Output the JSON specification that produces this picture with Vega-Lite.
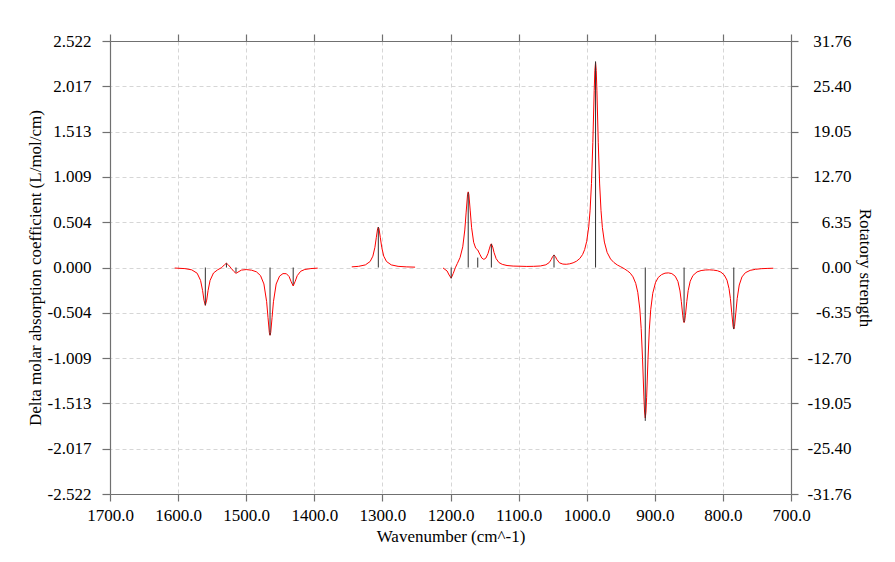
{
  "$schema": "https://vega.github.io/schema/vega-lite/v6.json",
  "width": 681,
  "height": 453,
  "autosize": {"type": "none"},
  "padding": {"left": 110, "top": 41, "right": 104, "bottom": 68},
  "background": "white",
  "config": {
    "view": {"stroke": null},
    "font": "Liberation Serif, Times New Roman, DejaVu Serif, serif",
    "axis": {
      "labelFont": "Liberation Serif, Times New Roman, DejaVu Serif, serif",
      "titleFont": "Liberation Serif, Times New Roman, DejaVu Serif, serif",
      "labelFontSize": 17,
      "titleFontSize": 17,
      "titleFontWeight": "normal",
      "labelColor": "#000",
      "titleColor": "#000",
      "domainColor": "#707070",
      "tickColor": "#707070",
      "domainWidth": 1.2,
      "tickWidth": 1.2,
      "gridColor": "#d6d6d6",
      "gridDash": [4, 3],
      "gridWidth": 1,
      "labelFlush": false,
      "labelOverlap": false
    }
  },
  "datasets": {
    "curve": [
      {"wn":1605,"de":-0.006,"seg":1},{"wn":1590,"de":-0.0125,"seg":1},{"wn":1580,"de":-0.026,"seg":1},{"wn":1572,"de":-0.064,"seg":1},{"wn":1567,"de":-0.144,"seg":1},{"wn":1564,"de":-0.258,"seg":1},{"wn":1562,"de":-0.364,"seg":1},{"wn":1560,"de":-0.421,"seg":1},{"wn":1558,"de":-0.363,"seg":1},{"wn":1556,"de":-0.256,"seg":1},{"wn":1553,"de":-0.143,"seg":1},{"wn":1548,"de":-0.061,"seg":1},{"wn":1542,"de":-0.026,"seg":1},{"wn":1536,"de":-0.001,"seg":1},{"wn":1532,"de":0.030,"seg":1},{"wn":1529,"de":0.048,"seg":1},{"wn":1526,"de":0.027,"seg":1},{"wn":1522,"de":-0.009,"seg":1},{"wn":1518,"de":-0.045,"seg":1},{"wn":1515,"de":-0.065,"seg":1},{"wn":1512,"de":-0.051,"seg":1},{"wn":1507,"de":-0.029,"seg":1},{"wn":1500,"de":-0.023,"seg":1},{"wn":1492,"de":-0.030,"seg":1},{"wn":1485,"de":-0.048,"seg":1},{"wn":1479,"de":-0.090,"seg":1},{"wn":1474,"de":-0.183,"seg":1},{"wn":1470,"de":-0.380,"seg":1},{"wn":1468,"de":-0.555,"seg":1},{"wn":1466,"de":-0.725,"seg":1},{"wn":1465,"de":-0.754,"seg":1},{"wn":1464,"de":-0.725,"seg":1},{"wn":1462,"de":-0.557,"seg":1},{"wn":1460,"de":-0.381,"seg":1},{"wn":1456,"de":-0.184,"seg":1},{"wn":1451,"de":-0.096,"seg":1},{"wn":1446,"de":-0.068,"seg":1},{"wn":1441,"de":-0.069,"seg":1},{"wn":1437,"de":-0.101,"seg":1},{"wn":1434,"de":-0.158,"seg":1},{"wn":1431,"de":-0.206,"seg":1},{"wn":1428,"de":-0.153,"seg":1},{"wn":1425,"de":-0.090,"seg":1},{"wn":1420,"de":-0.042,"seg":1},{"wn":1414,"de":-0.022,"seg":1},{"wn":1405,"de":-0.012,"seg":1},{"wn":1395,"de":-0.007,"seg":1},
      {"wn":1345,"de":0.007,"seg":2},{"wn":1335,"de":0.013,"seg":2},{"wn":1325,"de":0.029,"seg":2},{"wn":1318,"de":0.067,"seg":2},{"wn":1314,"de":0.126,"seg":2},{"wn":1311,"de":0.225,"seg":2},{"wn":1309,"de":0.331,"seg":2},{"wn":1307,"de":0.433,"seg":2},{"wn":1306,"de":0.450,"seg":2},{"wn":1305,"de":0.433,"seg":2},{"wn":1303,"de":0.331,"seg":2},{"wn":1301,"de":0.225,"seg":2},{"wn":1298,"de":0.126,"seg":2},{"wn":1294,"de":0.067,"seg":2},{"wn":1287,"de":0.029,"seg":2},{"wn":1277,"de":0.013,"seg":2},{"wn":1265,"de":0.007,"seg":2},{"wn":1252,"de":0.004,"seg":2},
      {"wn":1211,"de":-0.005,"seg":3},{"wn":1205,"de":-0.039,"seg":3},{"wn":1202,"de":-0.084,"seg":3},{"wn":1199,"de":-0.118,"seg":3},{"wn":1196,"de":-0.067,"seg":3},{"wn":1193,"de":-0.004,"seg":3},{"wn":1190,"de":0.044,"seg":3},{"wn":1186,"de":0.110,"seg":3},{"wn":1182,"de":0.230,"seg":3},{"wn":1179,"de":0.418,"seg":3},{"wn":1177,"de":0.617,"seg":3},{"wn":1175,"de":0.808,"seg":3},{"wn":1174,"de":0.842,"seg":3},{"wn":1173,"de":0.812,"seg":3},{"wn":1171,"de":0.630,"seg":3},{"wn":1169,"de":0.443,"seg":3},{"wn":1166,"de":0.281,"seg":3},{"wn":1163,"de":0.215,"seg":3},{"wn":1160,"de":0.195,"seg":3},{"wn":1157,"de":0.148,"seg":3},{"wn":1154,"de":0.105,"seg":3},{"wn":1151,"de":0.090,"seg":3},{"wn":1148,"de":0.105,"seg":3},{"wn":1145,"de":0.154,"seg":3},{"wn":1143,"de":0.207,"seg":3},{"wn":1141,"de":0.256,"seg":3},{"wn":1140,"de":0.264,"seg":3},{"wn":1138,"de":0.228,"seg":3},{"wn":1136,"de":0.165,"seg":3},{"wn":1133,"de":0.099,"seg":3},{"wn":1129,"de":0.056,"seg":3},{"wn":1124,"de":0.035,"seg":3},{"wn":1117,"de":0.022,"seg":3},{"wn":1108,"de":0.016,"seg":3},{"wn":1098,"de":0.014,"seg":3},{"wn":1088,"de":0.012,"seg":3},{"wn":1078,"de":0.013,"seg":3},{"wn":1068,"de":0.017,"seg":3},{"wn":1060,"de":0.030,"seg":3},{"wn":1055,"de":0.055,"seg":3},{"wn":1052,"de":0.090,"seg":3},{"wn":1050,"de":0.122,"seg":3},{"wn":1048,"de":0.139,"seg":3},{"wn":1046,"de":0.122,"seg":3},{"wn":1044,"de":0.091,"seg":3},{"wn":1040,"de":0.052,"seg":3},{"wn":1035,"de":0.038,"seg":3},{"wn":1030,"de":0.036,"seg":3},{"wn":1025,"de":0.041,"seg":3},{"wn":1020,"de":0.052,"seg":3},{"wn":1015,"de":0.070,"seg":3},{"wn":1010,"de":0.101,"seg":3},{"wn":1006,"de":0.145,"seg":3},{"wn":1003,"de":0.200,"seg":3},{"wn":1000,"de":0.291,"seg":3},{"wn":997,"de":0.453,"seg":3},{"wn":995,"de":0.638,"seg":3},{"wn":993,"de":0.933,"seg":3},{"wn":991,"de":1.391,"seg":3},{"wn":989,"de":1.968,"seg":3},{"wn":988,"de":2.196,"seg":3},{"wn":987,"de":2.283,"seg":3},{"wn":986,"de":2.194,"seg":3},{"wn":985,"de":1.967,"seg":3},{"wn":983,"de":1.389,"seg":3},{"wn":981,"de":0.930,"seg":3},{"wn":979,"de":0.635,"seg":3},{"wn":977,"de":0.446,"seg":3},{"wn":974,"de":0.283,"seg":3},{"wn":970,"de":0.168,"seg":3},{"wn":965,"de":0.095,"seg":3},{"wn":960,"de":0.055,"seg":3},{"wn":955,"de":0.028,"seg":3},{"wn":950,"de":0.008,"seg":3},{"wn":945,"de":-0.013,"seg":3},{"wn":940,"de":-0.038,"seg":3},{"wn":936,"de":-0.063,"seg":3},{"wn":932,"de":-0.104,"seg":3},{"wn":928,"de":-0.177,"seg":3},{"wn":925,"de":-0.276,"seg":3},{"wn":922,"de":-0.462,"seg":3},{"wn":920,"de":-0.680,"seg":3},{"wn":918,"de":-1.016,"seg":3},{"wn":916,"de":-1.441,"seg":3},{"wn":915,"de":-1.609,"seg":3},{"wn":914,"de":-1.675,"seg":3},{"wn":913,"de":-1.610,"seg":3},{"wn":912,"de":-1.444,"seg":3},{"wn":910,"de":-1.021,"seg":3},{"wn":908,"de":-0.686,"seg":3},{"wn":906,"de":-0.470,"seg":3},{"wn":903,"de":-0.287,"seg":3},{"wn":899,"de":-0.169,"seg":3},{"wn":895,"de":-0.111,"seg":3},{"wn":890,"de":-0.079,"seg":3},{"wn":885,"de":-0.063,"seg":3},{"wn":880,"de":-0.060,"seg":3},{"wn":875,"de":-0.068,"seg":3},{"wn":870,"de":-0.097,"seg":3},{"wn":866,"de":-0.157,"seg":3},{"wn":863,"de":-0.261,"seg":3},{"wn":861,"de":-0.380,"seg":3},{"wn":859,"de":-0.531,"seg":3},{"wn":858,"de":-0.590,"seg":3},{"wn":857,"de":-0.613,"seg":3},{"wn":856,"de":-0.590,"seg":3},{"wn":855,"de":-0.531,"seg":3},{"wn":853,"de":-0.378,"seg":3},{"wn":851,"de":-0.258,"seg":3},{"wn":848,"de":-0.153,"seg":3},{"wn":844,"de":-0.089,"seg":3},{"wn":838,"de":-0.049,"seg":3},{"wn":832,"de":-0.034,"seg":3},{"wn":826,"de":-0.028,"seg":3},{"wn":820,"de":-0.026,"seg":3},{"wn":814,"de":-0.029,"seg":3},{"wn":808,"de":-0.036,"seg":3},{"wn":803,"de":-0.051,"seg":3},{"wn":798,"de":-0.083,"seg":3},{"wn":794,"de":-0.141,"seg":3},{"wn":791,"de":-0.234,"seg":3},{"wn":789,"de":-0.345,"seg":3},{"wn":787,"de":-0.505,"seg":3},{"wn":785,"de":-0.658,"seg":3},{"wn":784,"de":-0.685,"seg":3},{"wn":783,"de":-0.658,"seg":3},{"wn":781,"de":-0.505,"seg":3},{"wn":779,"de":-0.345,"seg":3},{"wn":776,"de":-0.195,"seg":3},{"wn":772,"de":-0.105,"seg":3},{"wn":767,"de":-0.058,"seg":3},{"wn":760,"de":-0.032,"seg":3},{"wn":752,"de":-0.020,"seg":3},{"wn":743,"de":-0.013,"seg":3},{"wn":734,"de":-0.010,"seg":3},{"wn":726,"de":-0.008,"seg":3}
    ],
    "sticks": [
      {"wn":1560,"r":-5.30},{"wn":1529,"r":0.60},{"wn":1515,"r":-0.70},{"wn":1465,"r":-9.50},{"wn":1431,"r":-2.40},
      {"wn":1306,"r":5.67},{"wn":1199,"r":-1.54},{"wn":1174,"r":10.5},{"wn":1160,"r":1.39},{"wn":1140,"r":3.30},
      {"wn":1048,"r":1.78},{"wn":987,"r":28.9},{"wn":914,"r":-21.5},{"wn":857,"r":-7.66},{"wn":784,"r":-8.64}
    ]
  },
  "resolve": {"scale": {"y": "independent"}, "axis": {"y": "independent", "x": "independent"}},
  "layer": [
    {
      "data": {"name": "sticks"},
      "mark": {"type": "rule", "opacity": 0},
      "encoding": {
        "x": {"field": "wn", "type": "quantitative",
              "scale": {"domain": [700, 1700], "reverse": true, "nice": false, "zero": false},
              "axis": {"orient": "top", "values": [1700,1600,1500,1400,1300,1200,1100,1000,900,800,700], "labels": false, "grid": false, "tickSize": 7, "title": null}}
      }
    },
    {
      "data": {"name": "curve"},
      "mark": {"type": "line", "color": "#ff0000", "strokeWidth": 1},
      "encoding": {
        "x": {"field": "wn", "type": "quantitative",
              "scale": {"domain": [700, 1700], "reverse": true, "nice": false, "zero": false},
              "axis": {"orient": "bottom", "values": [1700,1600,1500,1400,1300,1200,1100,1000,900,800,700], "format": ".1f", "grid": true, "tickSize": 7, "labelPadding": 6,
                       "title": "Wavenumber (cm^-1)", "titleX": 340.5, "titleY": 42, "titleBaseline": "middle", "titleAnchor": null}},
        "y": {"field": "de", "type": "quantitative",
              "scale": {"domain": [-2.5216, 2.5216], "nice": false, "zero": false},
              "axis": {"orient": "left", "values": [-2.5216,-2.01728,-1.51296,-1.00864,-0.50432,0,0.50432,1.00864,1.51296,2.01728,2.5216],
                       "labelExpr": "replace(format(datum.value, '.3f'), '\u2212', '-')", "grid": true, "tickSize": 8, "labelPadding": 11,
                       "title": "Delta molar absorption coefficient (L/mol/cm)", "titleX": -75, "titleY": 226.5, "titleAngle": -90, "titleBaseline": "middle", "titleAlign": "center"}},
        "detail": {"field": "seg", "type": "nominal"}
      }
    },
    {
      "mark": {"type": "rule", "color": "#707070", "strokeWidth": 1.2},
      "encoding": {
        "y": {"datum": 0, "type": "quantitative", "scale": {"domain": [-1, 1], "nice": false}, "axis": null}
      }
    },
    {
      "data": {"name": "sticks"},
      "mark": {"type": "rule", "color": "#303030", "strokeWidth": 1},
      "encoding": {
        "x": {"field": "wn", "type": "quantitative", "scale": {"domain": [700, 1700], "reverse": true, "nice": false, "zero": false}, "axis": null},
        "y": {"field": "r", "type": "quantitative",
              "scale": {"domain": [-31.756, 31.756], "nice": false, "zero": false},
              "axis": {"orient": "right", "values": [-31.756,-25.4048,-19.0536,-12.7024,-6.3512,0,6.3512,12.7024,19.0536,25.4048,31.756],
                       "labelExpr": "replace(format(datum.value, '.2f'), '\u2212', '-')", "grid": false, "tickSize": 7, "labelPadding": 53, "labelAlign": "right",
                       "title": "Rotatory strength", "titleX": 73, "titleY": 226.5, "titleAngle": 90, "titleBaseline": "middle", "titleAlign": "center"}},
        "y2": {"datum": 0}
      }
    }
  ]
}
